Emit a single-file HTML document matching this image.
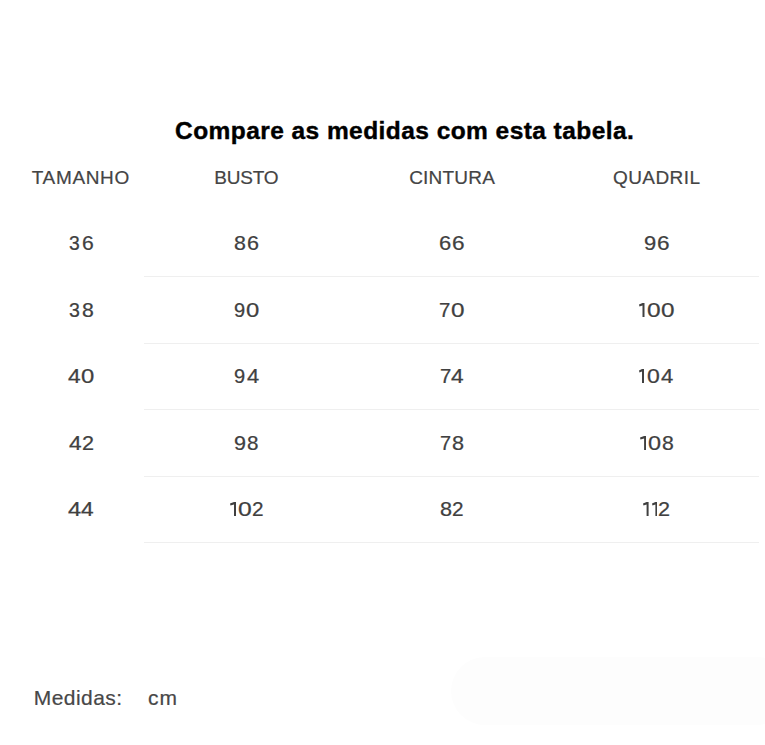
<!DOCTYPE html>
<html><head><meta charset="utf-8">
<style>
html,body{margin:0;padding:0;background:#fff;}
body{width:765px;height:745px;position:relative;overflow:hidden;font-family:"Liberation Sans",sans-serif;}
.t{position:absolute;white-space:nowrap;line-height:1;}
.c{text-align:center;width:200px;margin-left:-100px;}
h1{position:absolute;margin:0;left:175px;top:119px;font-size:24.5px;letter-spacing:0.44px;line-height:1;font-weight:bold;color:#000;-webkit-text-stroke:0.4px #000;white-space:nowrap;}
.h{font-size:19px;color:#444;-webkit-text-stroke:0.2px #444;}
.g{position:absolute;font-size:21px;line-height:21px;height:21px;color:#404040;-webkit-text-stroke:0.25px #404040;transform-origin:0 18px;}
.one{position:absolute;fill:#404040;}
.ln{position:absolute;left:144px;width:615px;height:1px;background:#efefef;}
.m{font-size:21px;color:#474747;-webkit-text-stroke:0.2px #474747;letter-spacing:0.45px;}
.box{position:absolute;left:451px;top:657px;width:340px;height:68px;border-radius:34px;background:#fdfdfd;}
</style></head><body>
<h1>Compare as medidas com esta tabela.</h1>
<div class="t c h" style="left:80.81px;top:168px;letter-spacing:0.63px">TAMANHO</div>
<div class="t c h" style="left:246.40px;top:168px;letter-spacing:-0.2px">BUSTO</div>
<div class="t c h" style="left:452.10px;top:168px;letter-spacing:0.2px">CINTURA</div>
<div class="t c h" style="left:656.73px;top:168px;letter-spacing:0.45px">QUADRIL</div>
<span class="g" style="left:69.33px;top:232px;transform:scale(0.921,0.95)">3</span><span class="g" style="left:81.50px;top:232px;transform:scale(1.006,0.95)">6</span>
<span class="g" style="left:234.35px;top:232px;transform:scale(1.019,0.95)">8</span><span class="g" style="left:246.78px;top:232px;transform:scale(1.026,0.95)">6</span>
<span class="g" style="left:438.97px;top:232px;transform:scale(1.046,0.95)">6</span><span class="g" style="left:451.84px;top:232px;transform:scale(1.076,0.95)">6</span>
<span class="g" style="left:644.35px;top:232px;transform:scale(1.045,0.95)">9</span><span class="g" style="left:656.84px;top:232px;transform:scale(1.076,0.95)">6</span>
<div class="ln" style="top:276px"></div>
<span class="g" style="left:69.42px;top:299px;transform:scale(0.931,0.95)">3</span><span class="g" style="left:81.55px;top:299px;transform:scale(1.010,0.95)">8</span>
<span class="g" style="left:233.63px;top:299px;transform:scale(0.955,0.95)">9</span><span class="g" style="left:246.36px;top:299px;transform:scale(1.137,0.95)">0</span>
<span class="g" style="left:439.33px;top:299px;transform:scale(0.970,0.95)">7</span><span class="g" style="left:451.05px;top:299px;transform:scale(1.157,0.95)">0</span>
<svg class="one" style="left:639.20px;top:303.05px" width="5.50" height="13.9" viewBox="0 0 5.50 13.9"><path d="M3.50 0H5.50V13.9H3.50V2.5L0.45 3.6L0 1.6Z"/></svg><span class="g" style="left:646.74px;top:299px;transform:scale(1.166,0.95)">0</span><span class="g" style="left:661.05px;top:299px;transform:scale(1.157,0.95)">0</span>
<div class="ln" style="top:343px"></div>
<span class="g" style="left:67.66px;top:365px;transform:scale(1.080,0.95)">4</span><span class="g" style="left:81.46px;top:365px;transform:scale(1.137,0.95)">0</span>
<span class="g" style="left:234.33px;top:365px;transform:scale(0.955,0.95)">9</span><span class="g" style="left:246.98px;top:365px;transform:scale(1.043,0.95)">4</span>
<span class="g" style="left:440.23px;top:365px;transform:scale(0.970,0.95)">7</span><span class="g" style="left:450.56px;top:365px;transform:scale(1.080,0.95)">4</span>
<svg class="one" style="left:639.30px;top:369.05px" width="5.00" height="13.9" viewBox="0 0 5.00 13.9"><path d="M3.00 0H5.00V13.9H3.00V2.5L0.45 3.6L0 1.6Z"/></svg><span class="g" style="left:647.29px;top:365px;transform:scale(1.098,0.95)">0</span><span class="g" style="left:661.47px;top:365px;transform:scale(1.052,0.95)">4</span>
<div class="ln" style="top:409px"></div>
<span class="g" style="left:68.76px;top:432px;transform:scale(1.080,0.95)">4</span><span class="g" style="left:81.99px;top:432px;transform:scale(1.029,0.95)">2</span>
<span class="g" style="left:234.47px;top:432px;transform:scale(1.025,0.95)">9</span><span class="g" style="left:247.48px;top:432px;transform:scale(0.980,0.95)">8</span>
<span class="g" style="left:440.25px;top:432px;transform:scale(0.949,0.95)">7</span><span class="g" style="left:451.64px;top:432px;transform:scale(1.029,0.95)">8</span>
<svg class="one" style="left:639.80px;top:436.05px" width="6.10" height="13.9" viewBox="0 0 6.10 13.9"><path d="M4.10 0H6.10V13.9H4.10V2.5L0.45 3.6L0 1.6Z"/></svg><span class="g" style="left:647.87px;top:432px;transform:scale(1.118,0.95)">0</span><span class="g" style="left:662.05px;top:432px;transform:scale(1.010,0.95)">8</span>
<div class="ln" style="top:476px"></div>
<span class="g" style="left:67.85px;top:498px;transform:scale(1.126,0.95)">4</span><span class="g" style="left:81.46px;top:498px;transform:scale(1.080,0.95)">4</span>
<svg class="one" style="left:230.00px;top:502.05px" width="6.00" height="13.9" viewBox="0 0 6.00 13.9"><path d="M4.00 0H6.00V13.9H4.00V2.5L0.45 3.6L0 1.6Z"/></svg><span class="g" style="left:237.83px;top:498px;transform:scale(1.176,0.95)">0</span><span class="g" style="left:251.83px;top:498px;transform:scale(0.988,0.95)">2</span>
<span class="g" style="left:439.84px;top:498px;transform:scale(1.029,0.95)">8</span><span class="g" style="left:452.23px;top:498px;transform:scale(0.988,0.95)">2</span>
<svg class="one" style="left:643.20px;top:502.05px" width="5.60" height="13.9" viewBox="0 0 5.60 13.9"><path d="M3.60 0H5.60V13.9H3.60V2.5L0.45 3.6L0 1.6Z"/></svg><svg class="one" style="left:651.50px;top:502.05px" width="5.40" height="13.9" viewBox="0 0 5.40 13.9"><path d="M3.40 0H5.40V13.9H3.40V2.5L0.45 3.6L0 1.6Z"/></svg><span class="g" style="left:658.39px;top:498px;transform:scale(1.029,0.95)">2</span>
<div class="ln" style="top:542px"></div>
<div class="box"></div>
<div class="t m" style="left:33.7px;top:687px">Medidas:</div>
<div class="t m" style="left:148px;top:687px;letter-spacing:1px">cm</div>
</body></html>
